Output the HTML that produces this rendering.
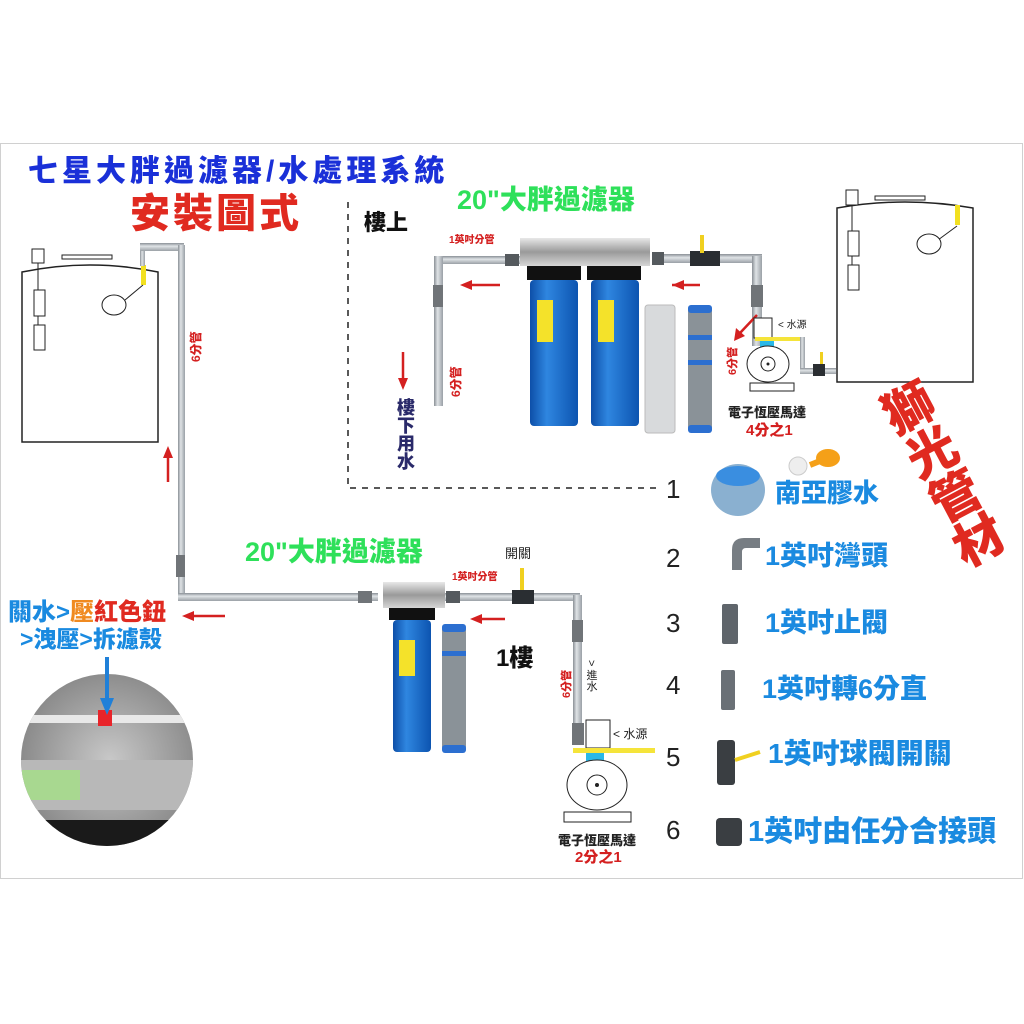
<!DOCTYPE html>
<html><head><meta charset="utf-8"><style>
*{margin:0;padding:0;box-sizing:border-box}
body{width:1024px;height:1024px;background:#fff;position:relative;overflow:hidden;font-family:"Liberation Sans","Noto Sans CJK TC",sans-serif}
.t{position:absolute;white-space:nowrap;font-weight:900;line-height:1}
.v{writing-mode:vertical-rl}
.r{transform:rotate(-90deg);transform-origin:left top}
svg{position:absolute;left:0;top:0}
</style></head><body>
<svg width="1024" height="1024" viewBox="0 0 1024 1024">
<defs>
<linearGradient id="pipe" x1="0" x2="1"><stop offset="0" stop-color="#8a9096"/><stop offset=".4" stop-color="#dfe3e6"/><stop offset="1" stop-color="#9aa0a6"/></linearGradient>
<linearGradient id="pipeh" x1="0" y1="0" x2="0" y2="1"><stop offset="0" stop-color="#8a9096"/><stop offset=".4" stop-color="#dfe3e6"/><stop offset="1" stop-color="#9aa0a6"/></linearGradient>
<linearGradient id="blue" x1="0" x2="1"><stop offset="0" stop-color="#0d4fa8"/><stop offset=".35" stop-color="#2f86e0"/><stop offset="1" stop-color="#0c54b0"/></linearGradient>
<linearGradient id="steel" x1="0" y1="0" x2="0" y2="1"><stop offset="0" stop-color="#e8e8e8"/><stop offset=".5" stop-color="#9a9a9a"/><stop offset="1" stop-color="#d6d6d6"/></linearGradient>
<radialGradient id="photo" cx=".5" cy=".5" r=".5"><stop offset="0" stop-color="#c8c8c8"/><stop offset="1" stop-color="#8a8a8a"/></radialGradient>
</defs>
<rect x="0.5" y="143.5" width="1022" height="735" fill="none" stroke="#d0d0d0"/>
<path d="M22 442 V272 Q90 258 158 272 V442 Z" fill="#fff" stroke="#222" stroke-width="1.5"/>
<rect x="32" y="249" width="12" height="14" fill="#fff" stroke="#222"/>
<rect x="62" y="255" width="50" height="4" fill="#fff" stroke="#222"/>
<line x1="38" y1="263" x2="38" y2="350" stroke="#222"/>
<rect x="34" y="290" width="11" height="26" fill="#fff" stroke="#222"/>
<rect x="34" y="325" width="11" height="25" fill="#fff" stroke="#222"/>
<rect x="141" y="265" width="5" height="20" fill="#f2e020"/>
<line x1="143" y1="285" x2="125" y2="300" stroke="#222"/>
<ellipse cx="114" cy="305" rx="12" ry="10" fill="#fff" stroke="#222"/>
<rect x="140" y="248" width="5" height="18" fill="url(#pipe)"/>
<rect x="140" y="243" width="44" height="8" fill="url(#pipeh)"/>
<rect x="178" y="245" width="7" height="355" fill="url(#pipe)"/>
<rect x="176" y="555" width="9" height="22" fill="#707478"/>
<rect x="178" y="593" width="200" height="8" fill="url(#pipeh)"/>
<rect x="358" y="591" width="14" height="12" fill="#707478"/>
<path d="M168 482 V455" stroke="#d42020" stroke-width="2.5"/><path d="M163 458 L168 446 L173 458Z" fill="#d42020"/>
<path d="M225 616 H192" stroke="#d42020" stroke-width="2.5"/><path d="M194 611 L182 616 L194 621Z" fill="#d42020"/>
<path d="M348 202 V488 H660" fill="none" stroke="#222" stroke-width="1.5" stroke-dasharray="6 6"/>
<rect x="436" y="256" width="84" height="8" fill="url(#pipeh)"/>
<rect x="434" y="256" width="9" height="150" fill="url(#pipe)"/>
<rect x="433" y="285" width="10" height="22" fill="#707478"/>
<rect x="505" y="254" width="14" height="12" fill="#555a5e"/>
<path d="M500 285 H470" stroke="#d42020" stroke-width="2.5"/><path d="M472 280 L460 285 L472 290Z" fill="#d42020"/>
<path d="M403 352 V380" stroke="#d42020" stroke-width="2.5"/><path d="M398 378 L403 390 L408 378Z" fill="#d42020"/>
<rect x="520" y="238" width="130" height="28" fill="url(#steel)"/>
<rect x="527" y="266" width="54" height="14" fill="#111"/><rect x="587" y="266" width="54" height="14" fill="#111"/>
<rect x="530" y="280" width="48" height="146" rx="4" fill="url(#blue)"/>
<rect x="591" y="280" width="48" height="146" rx="4" fill="url(#blue)"/>
<rect x="537" y="300" width="16" height="42" fill="#f4e22a"/><rect x="598" y="300" width="16" height="42" fill="#f4e22a"/>
<rect x="645" y="305" width="30" height="128" rx="3" fill="#d8dadc" stroke="#bbb"/>
<rect x="688" y="305" width="24" height="128" rx="5" fill="#8a9298"/>
<rect x="688" y="305" width="24" height="8" rx="3" fill="#2c6fd0"/><rect x="688" y="335" width="24" height="5" fill="#2c6fd0"/><rect x="688" y="360" width="24" height="5" fill="#2c6fd0"/><rect x="688" y="425" width="24" height="8" rx="3" fill="#2c6fd0"/>
<rect x="652" y="254" width="110" height="9" fill="url(#pipeh)"/>
<rect x="652" y="252" width="12" height="13" fill="#555a5e"/>
<rect x="690" y="251" width="30" height="15" fill="#2a2e32"/>
<rect x="700" y="235" width="4" height="18" fill="#f0d020"/>
<rect x="752" y="256" width="10" height="90" fill="url(#pipe)"/>
<rect x="751" y="285" width="12" height="22" fill="#707478"/>
<path d="M672 285 H700" stroke="#d42020" stroke-width="2.5"/><path d="M684 280 L672 285 L684 290Z" fill="#d42020"/>
<path d="M757 315 L740 333" stroke="#d42020" stroke-width="2.5"/><path d="M736 328 L734 341 L745 336Z" fill="#d42020"/>
<rect x="754" y="318" width="18" height="20" fill="#fff" stroke="#222"/>
<rect x="755" y="337" width="48" height="4" fill="#f5e43a"/>
<rect x="760" y="341" width="14" height="6" fill="#29b8e8"/>
<ellipse cx="768" cy="364" rx="21" ry="18" fill="#fff" stroke="#222"/>
<circle cx="768" cy="364" r="7" fill="#fff" stroke="#222"/><circle cx="768" cy="364" r="1.5" fill="#222"/>
<rect x="750" y="383" width="44" height="8" fill="#fff" stroke="#222"/>
<rect x="800" y="337" width="5" height="36" fill="url(#pipe)"/>
<rect x="800" y="368" width="36" height="6" fill="url(#pipeh)"/>
<rect x="813" y="364" width="12" height="12" fill="#2a2e32"/>
<rect x="820" y="352" width="3" height="12" fill="#f0d020"/>
<path d="M837 382 V208 Q905 196 973 208 V382 Z" fill="#fff" stroke="#222" stroke-width="1.5"/>
<rect x="846" y="190" width="12" height="15" fill="#fff" stroke="#222"/>
<rect x="875" y="196" width="50" height="4" fill="#fff" stroke="#222"/>
<line x1="852" y1="205" x2="852" y2="290" stroke="#222"/>
<rect x="848" y="231" width="11" height="25" fill="#fff" stroke="#222"/>
<rect x="848" y="265" width="11" height="25" fill="#fff" stroke="#222"/>
<rect x="955" y="205" width="5" height="20" fill="#f2e020"/>
<line x1="957" y1="226" x2="938" y2="240" stroke="#222"/>
<ellipse cx="929" cy="244" rx="12" ry="10" fill="#fff" stroke="#222"/>
<rect x="444" y="593" width="136" height="8" fill="url(#pipeh)"/>
<rect x="446" y="591" width="14" height="12" fill="#555a5e"/>
<rect x="512" y="590" width="22" height="14" fill="#2a2e32"/>
<rect x="520" y="568" width="4" height="22" fill="#f0d020"/>
<rect x="573" y="595" width="9" height="135" fill="url(#pipe)"/>
<rect x="572" y="620" width="11" height="22" fill="#707478"/>
<rect x="572" y="723" width="12" height="22" fill="#707478"/>
<rect x="383" y="582" width="62" height="26" fill="url(#steel)"/>
<rect x="389" y="608" width="46" height="12" fill="#111"/>
<rect x="393" y="620" width="38" height="132" rx="4" fill="url(#blue)"/>
<rect x="399" y="640" width="16" height="36" fill="#f4e22a"/>
<rect x="442" y="624" width="24" height="128" rx="5" fill="#8a9298"/>
<rect x="442" y="624" width="24" height="8" rx="3" fill="#2c6fd0"/><rect x="442" y="651" width="24" height="5" fill="#2c6fd0"/><rect x="442" y="745" width="24" height="8" rx="3" fill="#2c6fd0"/>
<path d="M505 619 H480" stroke="#d42020" stroke-width="2.5"/><path d="M482 614 L470 619 L482 624Z" fill="#d42020"/>
<rect x="586" y="720" width="24" height="28" fill="#fff" stroke="#222"/>
<rect x="573" y="748" width="82" height="5" fill="#f5e43a"/>
<rect x="586" y="753" width="18" height="8" fill="#29b8e8"/>
<ellipse cx="597" cy="785" rx="30" ry="25" fill="#fff" stroke="#222"/>
<circle cx="597" cy="785" r="10" fill="#fff" stroke="#222"/><circle cx="597" cy="785" r="2" fill="#222"/>
<rect x="564" y="812" width="67" height="10" fill="#fff" stroke="#222"/>
<clipPath id="cc"><circle cx="107" cy="760" r="86"/></clipPath>
<g clip-path="url(#cc)">
<rect x="20" y="670" width="180" height="180" fill="url(#photo)"/>
<rect x="20" y="715" width="180" height="8" fill="#e8e8e8"/>
<rect x="20" y="760" width="180" height="50" fill="#b8b8b8"/>
<rect x="22" y="770" width="58" height="30" fill="#a8d890"/>
<rect x="20" y="820" width="180" height="30" fill="#1a1a1a"/>
<rect x="98" y="710" width="14" height="16" fill="#e8242a"/>
</g>
<path d="M107 657 V700" stroke="#2080d8" stroke-width="4"/><path d="M100 698 L107 715 L114 698Z" fill="#2080d8"/>
<ellipse cx="738" cy="490" rx="27" ry="26" fill="#8ab0d0"/><ellipse cx="738" cy="476" rx="22" ry="10" fill="#3a8ee0"/>
<path d="M810 465 L835 455" stroke="#f5a018" stroke-width="6"/><ellipse cx="828" cy="458" rx="12" ry="9" fill="#f5a018"/><circle cx="798" cy="466" r="9" fill="#eee" stroke="#ccc"/>
<path d="M732 570 V550 Q732 538 744 538 H760 V548 H746 Q742 548 742 552 V570Z" fill="#777d83"/>
<rect x="722" y="604" width="16" height="40" rx="2" fill="#5f656b"/>
<rect x="721" y="670" width="14" height="40" rx="2" fill="#6a7076"/>
<rect x="717" y="740" width="18" height="45" rx="3" fill="#3a3e42"/><path d="M735 760 L760 752" stroke="#f0d020" stroke-width="4"/>
<rect x="716" y="818" width="26" height="28" rx="4" fill="#3a3e42"/>
</svg>

<div class="t" style="left:28px;top:157px;font-size:30px;color:#1a30d8;letter-spacing:4px">七星大胖過濾器/水處理系統</div>
<div class="t" style="left:130px;top:194px;font-size:40px;color:#e02a20;letter-spacing:3px">安裝圖式</div>
<div class="t r" style="left:190px;top:362px;font-size:12px;color:#d42020">6分管</div>
<div class="t" style="left:364px;top:212px;font-size:22px;color:#111">樓上</div>
<div class="t" style="left:457px;top:187px;font-size:27px;color:#2ee05a">20"大胖過濾器</div>
<div class="t" style="left:449px;top:236px;font-size:10px;color:#d42020">1英吋分管</div>
<div class="t r" style="left:450px;top:397px;font-size:12px;color:#d42020">6分管</div>
<div class="t v" style="left:396px;top:398px;font-size:18px;color:#2a2a6a">樓下用水</div>
<div class="t" style="left:778px;top:321px;font-size:10px;color:#222;font-weight:400">&lt; 水源</div>
<div class="t r" style="left:728px;top:375px;font-size:11px;color:#d42020">6分管</div>
<div class="t" style="left:728px;top:406px;font-size:13px;color:#222">電子恆壓馬達</div>
<div class="t" style="left:746px;top:423px;font-size:15px;color:#d42020">4分之1</div>
<div class="t v" style="left:868px;top:400px;font-size:50px;color:#e02a20;transform:rotate(-28deg);transform-origin:top left;line-height:1.1">獅光管材</div>
<div class="t" style="left:666px;top:476px;font-size:26px;color:#222;font-weight:400">1</div>
<div class="t" style="left:775px;top:480px;font-size:26px;color:#1a8ae0">南亞膠水</div>
<div class="t" style="left:666px;top:545px;font-size:26px;color:#222;font-weight:400">2</div>
<div class="t" style="left:765px;top:543px;font-size:27px;color:#1a8ae0">1英吋灣頭</div>
<div class="t" style="left:666px;top:610px;font-size:26px;color:#222;font-weight:400">3</div>
<div class="t" style="left:765px;top:610px;font-size:27px;color:#1a8ae0">1英吋止閥</div>
<div class="t" style="left:666px;top:672px;font-size:26px;color:#222;font-weight:400">4</div>
<div class="t" style="left:762px;top:676px;font-size:27px;color:#1a8ae0">1英吋轉6分直</div>
<div class="t" style="left:666px;top:744px;font-size:26px;color:#222;font-weight:400">5</div>
<div class="t" style="left:768px;top:740px;font-size:28px;color:#1a8ae0">1英吋球閥開關</div>
<div class="t" style="left:666px;top:817px;font-size:26px;color:#222;font-weight:400">6</div>
<div class="t" style="left:748px;top:818px;font-size:29px;color:#1a8ae0">1英吋由任分合接頭</div>
<div class="t" style="left:245px;top:539px;font-size:27px;color:#2ee05a">20"大胖過濾器</div>
<div class="t" style="left:505px;top:547px;font-size:13px;color:#222;font-weight:400">開關</div>
<div class="t" style="left:452px;top:573px;font-size:10px;color:#d42020">1英吋分管</div>
<div class="t" style="left:496px;top:647px;font-size:24px;color:#111">1樓</div>
<div class="t r" style="left:562px;top:698px;font-size:11px;color:#d42020">6分管</div>
<div class="t v" style="left:585px;top:660px;font-size:11px;color:#222;font-weight:400">&gt; 進水</div>
<div class="t" style="left:613px;top:728px;font-size:12px;color:#222;font-weight:400">&lt; 水源</div>
<div class="t" style="left:558px;top:834px;font-size:13px;color:#222">電子恆壓馬達</div>
<div class="t" style="left:575px;top:850px;font-size:15px;color:#d42020">2分之1</div>
<div class="t" style="left:8px;top:601px;font-size:24px;color:#1a8ae0">關水&gt;<span style="color:#f08a20">壓</span><span style="color:#e02a20">紅色鈕</span></div>
<div class="t" style="left:20px;top:628px;font-size:23px;color:#1a8ae0">&gt;洩壓&gt;拆濾殼</div>
</body></html>
